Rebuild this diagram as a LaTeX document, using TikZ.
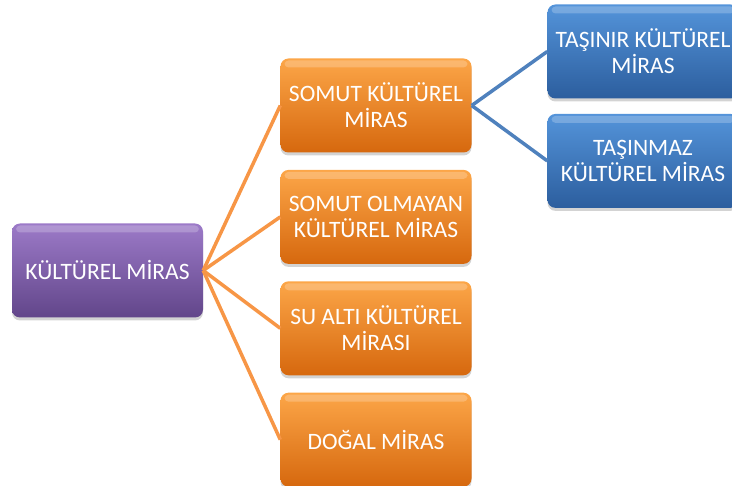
\documentclass[tikz,border=0pt]{standalone}
\usepackage{fontspec}
\setmainfont{Carlito}
\usepackage{xcolor}
\usepackage{tikz}
\usetikzlibrary{positioning,shadows}

\definecolor{morUst}{RGB}{156,122,200}
\definecolor{morOrta}{RGB}{128,94,172}
\definecolor{morAlt}{RGB}{98,70,138}
\definecolor{turUst}{RGB}{252,166,72}
\definecolor{turOrta}{RGB}{243,136,36}
\definecolor{turAlt}{RGB}{214,104,14}
\definecolor{maviUst}{RGB}{84,148,218}
\definecolor{maviOrta}{RGB}{64,124,198}
\definecolor{maviAlt}{RGB}{44,94,158}
\definecolor{turCizgi}{RGB}{247,150,70}
\definecolor{maviCizgi}{RGB}{79,129,189}

\begin{document}
\begin{tikzpicture}[
    x=1pt, y=-1pt,
    every node/.style={font=\fontsize{23.5}{26}\selectfont, text=white, align=center},
    kutu/.style={rounded corners=8pt, minimum width=191pt, minimum height=94pt, inner sep=2pt,
        drop shadow={shadow xshift=0pt, shadow yshift=-3pt, opacity=0.35},
        path picture={\fill[white, opacity=0.22, rounded corners=4pt]
            ([xshift=4pt, yshift=-2pt]path picture bounding box.north west) rectangle
            ([xshift=-4pt, yshift=-9pt]path picture bounding box.north east);}},
    morkutu/.style={kutu, top color=morUst, middle color=morOrta, bottom color=morAlt},
    turkutu/.style={kutu, top color=turUst, middle color=turOrta, bottom color=turAlt},
    mavikutu/.style={kutu, top color=maviUst, middle color=maviOrta, bottom color=maviAlt},
    turhat/.style={turCizgi, line width=3.5pt},
    mavihat/.style={maviCizgi, line width=3.5pt}
]
    \useasboundingbox (0,0) rectangle (732,486);

    % Root
    \node[morkutu] (miras) at (107.5,270.5) {KÜLTÜREL MİRAS};

    % Second level
    \node[turkutu] (somut) at (376,105.5) {SOMUT KÜLTÜREL\\MİRAS};
    \node[turkutu, below=17pt of somut] (olmayan) {SOMUT OLMAYAN\\KÜLTÜREL MİRAS};
    \node[turkutu, below=17pt of olmayan] (sualti) {SU ALTI KÜLTÜREL\\MİRASI};
    \node[turkutu, below=17pt of sualti] (dogal) {DOĞAL MİRAS};

    % Third level
    \node[mavikutu] (tasinir) at (643,51.5) {TAŞINIR KÜLTÜREL\\MİRAS};
    \node[mavikutu, below=15pt of tasinir] (tasinmaz) {TAŞINMAZ\\KÜLTÜREL MİRAS};

    % Connectors
    \foreach \n in {somut,olmayan,sualti,dogal}
        \draw[turhat] (miras.east) -- (\n.west);
    \foreach \n in {tasinir,tasinmaz}
        \draw[mavihat] (somut.east) -- (\n.west);
\end{tikzpicture}
\end{document}
